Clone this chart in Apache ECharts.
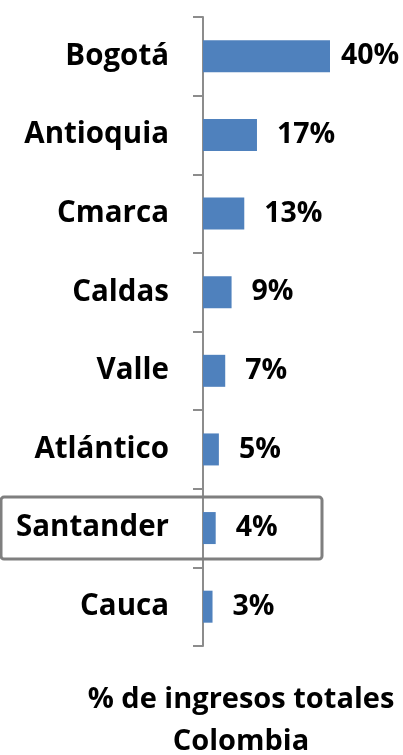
<!DOCTYPE html>
<html>
<head>
<meta charset="utf-8">
<script src="https://cdn.jsdelivr.net/npm/echarts@6/dist/echarts.min.js"></script>
<style>html,body{margin:0;padding:0;background:#fff}#c{width:403px;height:755px}</style>
</head>
<body>
<div id="c"></div>
<script>
const categories = ['Bogotá', 'Antioquia', 'Cmarca', 'Caldas', 'Valle', 'Atlántico', 'Santander', 'Cauca'];
const shares = [40, 17, 13, 9, 7, 5, 4, 3];
const highlighted = 'Santander';
const titleLines = ['% de ingresos totales', 'Colombia'];

const FONT = '"Open Sans", sans-serif';
const chart = echarts.init(document.getElementById('c'));
chart.setOption({
  animation: false,
  backgroundColor: '#fff',
  grid: { left: 203, right: 73, top: 17, bottom: 109, containLabel: false },
  xAxis: { type: 'value', min: 0, max: 40, show: false },
  yAxis: {
    type: 'category', data: categories, inverse: true,
    axisLine: { lineStyle: { color: '#8c8c8c', width: 2 } },
    axisTick: { show: true, length: 10, lineStyle: { color: '#8c8c8c', width: 2 } },
    axisLabel: { margin: 34, color: '#000', fontFamily: FONT, fontWeight: 'bold', fontSize: 29.5 },
    splitLine: { show: false }
  },
  series: [{
    type: 'bar', barWidth: 32,
    itemStyle: { color: '#4f81bd' },
    data: shares.map((v, i) => ({
      value: v,
      label: { distance: i === 0 ? 11 : 20 }
    })),
    label: {
      show: true, position: 'right', color: '#000', fontFamily: FONT, fontWeight: 'bold', fontSize: 28.5,
      formatter: p => Math.round(p.value) + '%'
    }
  }],
  title: {
    text: titleLines.join('\n'), left: 236, top: 674, textAlign: 'center',
    textStyle: { fontFamily: FONT, fontWeight: 'bold', fontSize: 29, lineHeight: 42, color: '#000' }
  }
});
const cy = chart.convertToPixel({ yAxisIndex: 0 }, highlighted);
chart.setOption({
  graphic: [{
    type: 'rect', shape: { x: 1, y: cy - 31, width: 321, height: 62, r: 3 },
    style: { fill: 'none', stroke: '#7f7f7f', lineWidth: 3 }, z: 10
  }]
});
</script>
</body>
</html>
